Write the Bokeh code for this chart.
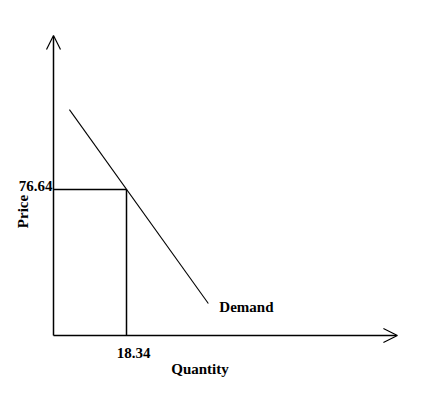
import math
from bokeh.plotting import figure
from bokeh.models import Range1d, Arrow, OpenHead
from bokeh.core.properties import value
from bokeh.embed import file_html
from bokeh.resources import INLINE

# ---- data ----
eq_quantity = 18.34
eq_price = 76.64
demand_q = [4.0, 38.9]
demand_p = [118.6, 16.8]
axis_q_max = 86.4
axis_p_max = 157.5
x_label = "Quantity"
y_label = "Price"
curve_label = "Demand"

W, H = 412, 388
# pixel scale (px per unit) so the diagram matches the reference layout
sx = 73 / eq_quantity
sy = 146 / eq_price
x0_px, y0_px = 53, 335  # origin inside the figure canvas

p = figure(width=W, height=H, output_backend="svg", toolbar_location=None,
           x_range=Range1d(-x0_px / sx, (W - x0_px) / sx),
           y_range=Range1d(-(H - y0_px) / sy, y0_px / sy),
           min_border=0)
p.axis.visible = False
p.grid.visible = False
p.outline_line_color = None
p.background_fill_color = "white"

# axes with arrows
p.add_layout(Arrow(end=OpenHead(size=14, line_width=1.2, line_color="black"),
                   x_start=0, y_start=0, x_end=axis_q_max, y_end=0,
                   line_width=1.5, line_color="black"))
p.add_layout(Arrow(end=OpenHead(size=14, line_width=1.2, line_color="black"),
                   x_start=0, y_start=0, x_end=0, y_end=axis_p_max,
                   line_width=1.5, line_color="black"))

# equilibrium guides
p.line([0, eq_quantity], [eq_price, eq_price], line_color="black", line_width=1.5)
p.line([eq_quantity, eq_quantity], [eq_price, 0], line_color="black", line_width=1.5)

# demand line
p.line(demand_q, demand_p, line_color="black", line_width=1.1)

font = value("Liberation Serif")
common = dict(text_font=font, text_font_style="bold", text_font_size="15px",
              text_color="black")

# price value label, right-aligned at the vertical axis
p.text(x=[-1 / sx], y=[eq_price], text=[f"{eq_price:.2f}"], text_align="right",
       text_baseline="bottom", y_offset=1, **common)
# quantity value label
p.text(x=[eq_quantity + 7 / sx], y=[-17 / sy], text=[f"{eq_quantity:.2f}"],
       text_align="center", text_baseline="middle", **common)
# axis titles
p.text(x=[36.8], y=[-33 / sy], text=[x_label], text_align="center",
       text_baseline="middle", **common)
p.text(x=[-31 / sx], y=[124 / sy], text=[y_label], text_align="center",
       text_baseline="middle", angle=math.pi / 2, **common)
# curve label
p.text(x=[demand_q[1] + 11 / sx], y=[demand_p[1] - 4 / sy], text=[curve_label],
       text_align="left", text_baseline="middle", **common)

open("out.html", "w").write(file_html(p, INLINE))
